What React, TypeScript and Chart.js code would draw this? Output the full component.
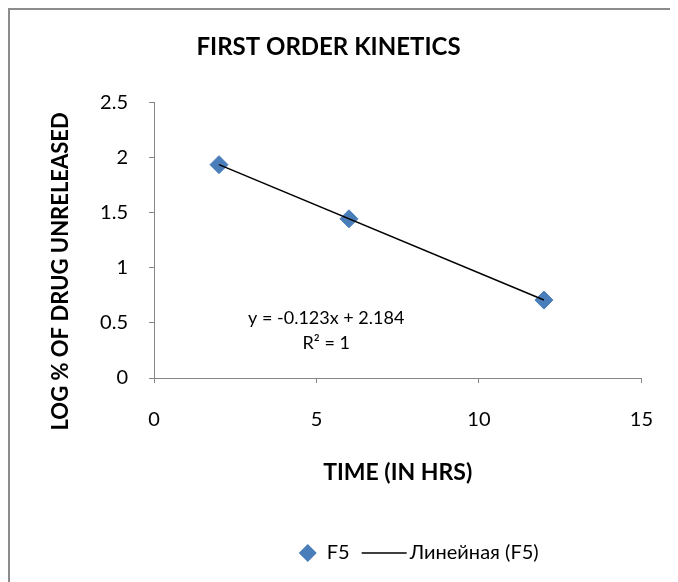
import React, { useEffect, useRef } from "react";
import { Chart, registerables } from "chart.js";

Chart.register(...registerables);

// ---- data ----
const TIME_HRS = [2, 6, 12];
const LOG_UNRELEASED = [1.938, 1.446, 0.708];
const SERIES_LABEL = "F5";
const TREND_LABEL = "Линейная (F5)";
const CHART_TITLE = "FIRST ORDER KINETICS";
const X_TITLE = "TIME (IN HRS)";
const Y_TITLE = "LOG % OF DRUG UNRELEASED";
const X_RANGE = [0, 15];
const X_STEP = 5;
const Y_RANGE = [0, 2.5];
const Y_STEP = 0.5;
const EQUATION_LINES = ["y = -0.123x + 2.184", "R² = 1"];
const EQUATION_AT = { x: 5.3, y: 0.54 };

const FONT = "Lato, 'Open Sans', sans-serif";
const BLUE = "#4A7EBB";
const AXIS_GRAY = "#868686";

function linearFit(xs: number[], ys: number[]) {
  const n = xs.length;
  const mx = xs.reduce((a, b) => a + b, 0) / n;
  const my = ys.reduce((a, b) => a + b, 0) / n;
  let sxy = 0;
  let sxx = 0;
  for (let i = 0; i < n; i++) {
    sxy += (xs[i] - mx) * (ys[i] - my);
    sxx += (xs[i] - mx) * (xs[i] - mx);
  }
  const slope = sxy / sxx;
  return { slope, intercept: my - slope * mx };
}

const extrasPlugin = {
  id: "extras",
  afterDraw(chart: any) {
    const ctx = chart.ctx;
    const xs = chart.scales.x;
    const ys = chart.scales.y;
    const area = chart.chartArea;

    // y axis title (sits a little below the plot-area centre, as in the original)
    ctx.save();
    ctx.fillStyle = "#000";
    ctx.font = `bold 22px ${FONT}`;
    ctx.textAlign = "center";
    ctx.textBaseline = "middle";
    ctx.translate(51, (area.top + area.bottom) / 2 + 31);
    ctx.rotate(-Math.PI / 2);
    ctx.fillText(Y_TITLE, 0, 0);
    ctx.restore();

    // trendline equation
    ctx.save();
    ctx.fillStyle = "#000";
    ctx.font = `18px ${FONT}`;
    ctx.textAlign = "center";
    ctx.textBaseline = "middle";
    const ex = xs.getPixelForValue(EQUATION_AT.x);
    const ey = ys.getPixelForValue(EQUATION_AT.y);
    EQUATION_LINES.forEach((t, i) => ctx.fillText(t, ex, ey + i * 25));
    ctx.restore();

    // legend
    const ds = chart.data.datasets;
    ctx.save();
    ctx.font = `20px ${FONT}`;
    ctx.textBaseline = "middle";
    ctx.textAlign = "left";
    const w1 = ctx.measureText(ds[0].label).width;
    const w2 = ctx.measureText(ds[1].label).width;
    const diamond = 18;
    const lineLen = 45;
    const total = diamond + 10 + w1 + 12 + lineLen + 3 + w2;
    const cx = (area.left + area.right) / 2 + 21;
    const y = chart.height - 29;
    let x = cx - total / 2;
    const r = diamond / 2;
    ctx.fillStyle = ds[0].backgroundColor;
    ctx.beginPath();
    ctx.moveTo(x, y);
    ctx.lineTo(x + r, y - r);
    ctx.lineTo(x + 2 * r, y);
    ctx.lineTo(x + r, y + r);
    ctx.closePath();
    ctx.fill();
    x += diamond + 10;
    ctx.fillStyle = "#000";
    ctx.fillText(ds[0].label, x, y);
    x += w1 + 12;
    ctx.strokeStyle = ds[1].borderColor;
    ctx.lineWidth = ds[1].borderWidth;
    ctx.beginPath();
    ctx.moveTo(x, y);
    ctx.lineTo(x + lineLen, y);
    ctx.stroke();
    x += lineLen + 3;
    ctx.fillText(ds[1].label, x, y);
    ctx.restore();
  },
};

export default function App() {
  const ref = useRef<HTMLCanvasElement | null>(null);

  useEffect(() => {
    if (!ref.current) return;
    const fit = linearFit(TIME_HRS, LOG_UNRELEASED);
    const xMin = Math.min(...TIME_HRS);
    const xMax = Math.max(...TIME_HRS);
    const points = TIME_HRS.map((x, i) => ({ x, y: LOG_UNRELEASED[i] }));
    const trend = [xMin, xMax].map((x) => ({ x, y: fit.intercept + fit.slope * x }));

    const chart = new Chart(ref.current, {
      type: "scatter",
      data: {
        datasets: [
          {
            label: SERIES_LABEL,
            data: points,
            pointStyle: "rectRot",
            pointRadius: 9,
            backgroundColor: BLUE,
            borderColor: BLUE,
            borderWidth: 1,
            showLine: false,
            order: 1,
          },
          {
            label: TREND_LABEL,
            data: trend,
            showLine: true,
            pointRadius: 0,
            borderColor: "#000",
            backgroundColor: "#000",
            borderWidth: 1.5,
            order: 0,
          },
        ],
      },
      options: {
        responsive: false,
        animation: false,
        events: [],
        layout: { padding: { left: 0, right: 31, top: 0, bottom: 84 } },
        plugins: {
          legend: { display: false },
          tooltip: { enabled: false },
          title: {
            display: true,
            text: CHART_TITLE,
            color: "#000",
            font: { family: FONT, size: 24, weight: "bold" },
            padding: { top: 23, bottom: 41 },
          },
        },
        scales: {
          x: {
            type: "linear",
            min: X_RANGE[0],
            max: X_RANGE[1],
            afterFit: (s: any) => {
              s.height = 120;
            },
            ticks: {
              stepSize: X_STEP,
              color: "#000",
              font: { family: FONT, size: 20 },
              padding: 25,
              callback: (v: any) => String(v),
            },
            grid: {
              display: true,
              drawOnChartArea: false,
              drawTicks: true,
              tickLength: 5,
              color: AXIS_GRAY,
            },
            border: { display: true, color: AXIS_GRAY, width: 1 },
            title: {
              display: true,
              text: X_TITLE,
              color: "#000",
              font: { family: FONT, size: 23, weight: "bold" },
              padding: { top: 0, bottom: 12 },
            },
          },
          y: {
            type: "linear",
            min: Y_RANGE[0],
            max: Y_RANGE[1],
            afterFit: (s: any) => {
              s.width = 144;
            },
            ticks: {
              stepSize: Y_STEP,
              color: "#000",
              font: { family: FONT, size: 20 },
              padding: 21,
              callback: (v: any) => String(v),
            },
            grid: {
              display: true,
              drawOnChartArea: false,
              drawTicks: true,
              tickLength: 5,
              color: AXIS_GRAY,
            },
            border: { display: true, color: AXIS_GRAY, width: 1 },
            title: { display: false },
          },
        },
      },
      plugins: [extrasPlugin],
    } as any);
    return () => chart.destroy();
  }, []);

  return (
    <div
      style={{
        width: 670,
        height: 574,
        boxSizing: "border-box",
        borderLeft: "2px solid #8c8c8c",
        borderTop: "2px solid #8c8c8c",
        overflow: "hidden",
      }}
    >
      <canvas ref={ref} width={668} height={572} style={{ display: "block" }} />
    </div>
  );
}
